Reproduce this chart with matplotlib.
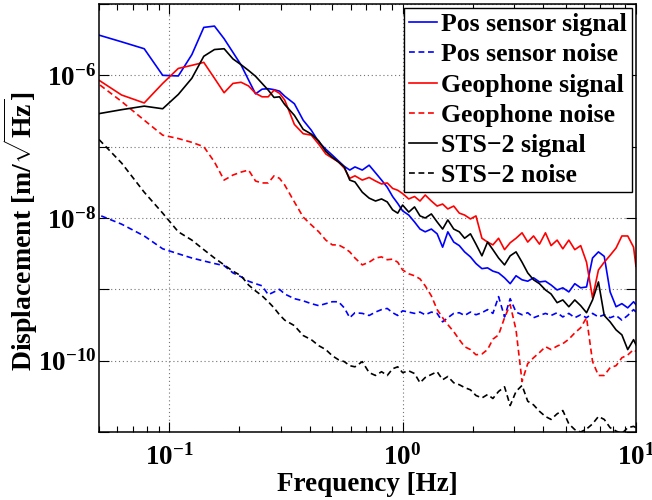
import numpy as np
import matplotlib
matplotlib.use("Agg")
import matplotlib.pyplot as plt
from matplotlib.ticker import FixedLocator, FuncFormatter, LogLocator, NullFormatter

plt.rcParams['font.family'] = ['Liberation Serif', 'DejaVu Serif']
plt.rcParams['font.weight'] = 'bold'
plt.rcParams['mathtext.fontset'] = 'custom'
plt.rcParams['mathtext.rm'] = 'Liberation Serif:bold'
plt.rcParams['mathtext.it'] = 'Liberation Serif:italic:bold'
plt.rcParams['mathtext.bf'] = 'Liberation Serif:bold'

# frequency bin index (resolution 1/64 Hz)
bins = [3, 4, 5, 6, 7, 8, 9, 10, 11, 12, 13, 14, 15, 16, 17, 18, 19, 20,
        22, 24, 26, 28, 30, 32, 34, 36, 38, 40,
        43, 46, 49, 52, 55, 58, 61, 64,
        68, 72, 76, 80, 85, 90, 95, 100,
        106, 112, 118, 125, 132, 140, 148, 156, 165, 175, 185, 196,
        208, 220, 233, 247, 262, 277, 294, 311, 330, 350, 371, 393,
        417, 442, 468, 496, 526, 557, 590, 625, 640]
freq = np.array(bins) / 64.0

pos_signal = [3.9e-6, 2.95e-6, 2.36e-6, 1.0e-6, 9.8e-7, 1.95e-6, 4.7e-6, 4.9e-6, 3.26e-6, 2.1e-6, 1.4e-6, 8.6e-7, 5.5e-7, 6.4e-7, 6.5e-7, 6.3e-7, 6.0e-7, 5.1e-7,
              4.0e-7, 2.35e-7, 1.7e-7, 1.16e-7, 9.2e-8, 7.6e-8, 6.3e-8, 5.3e-8, 4.7e-8, 5.2e-8,
              4.7e-8, 5.5e-8, 4.3e-8, 3.4e-8, 2.7e-8, 2.0e-8, 1.6e-8, 1.26e-8,
              1.1e-8, 8.8e-9, 7.0e-9, 6.4e-9, 7.0e-9, 6.0e-9, 3.9e-9, 6.4e-9,
              4.6e-9, 4.1e-9, 3.35e-9, 2.85e-9, 2.3e-9, 1.95e-9, 2.0e-9, 1.8e-9, 1.7e-9, 1.45e-9, 1.2e-9, 1.55e-9,
              1.36e-9, 1.3e-9, 1.45e-9, 1.27e-9, 1.3e-9, 1.15e-9, 9.8e-10, 1.05e-9, 9.2e-10, 1.2e-9, 1.05e-9, 1.08e-9,
              2.75e-9, 3.35e-9, 2.9e-9, 9.2e-10, 5.7e-10, 6.3e-10, 5.5e-10, 6.7e-10, 6.1e-10]

pos_noise = [1.2e-8, 8.2e-9, 5.6e-9, 3.7e-9, 3.15e-9, 2.75e-9, 2.5e-9, 2.3e-9, 2.15e-9, 1.7e-9, 1.5e-9, 1.3e-9, 1.2e-9, 1.12e-9, 8.4e-10, 9.2e-10, 1.0e-9, 8.6e-10,
             7.4e-10, 6.9e-10, 6.3e-10, 5.9e-10, 6.3e-10, 6.7e-10, 6.7e-10, 5.5e-10, 4.0e-10, 4.7e-10,
             4.6e-10, 4.3e-10, 4.8e-10, 5.2e-10, 5.4e-10, 4.7e-10, 4.3e-10, 5.0e-10,
             4.8e-10, 4.6e-10, 4.8e-10, 4.4e-10, 4.8e-10, 4.6e-10, 3.5e-10, 4.0e-10,
             4.6e-10, 4.7e-10, 4.3e-10, 4.8e-10, 4.4e-10, 4.7e-10, 5.2e-10, 4.6e-10, 7.9e-10, 4.1e-10, 7.4e-10, 4.8e-10,
             4.4e-10, 4.7e-10, 4.0e-10, 4.3e-10, 4.6e-10, 4.3e-10, 4.7e-10, 4.1e-10, 4.6e-10, 4.0e-10, 4.4e-10, 4.0e-10,
             4.6e-10, 4.1e-10, 4.4e-10, 4.0e-10, 4.3e-10, 3.7e-10, 4.3e-10, 5.2e-10, 4.8e-10]

geo_signal = [9.8e-7, 5.3e-7, 4.1e-7, 7.7e-7, 1.25e-6, 1.38e-6, 1.52e-6, 9.1e-7, 5.7e-7, 7.7e-7, 8.0e-7, 7.1e-7, 5.6e-7, 5.0e-7, 5.0e-7, 6.2e-7, 5.6e-7, 4.5e-7,
              2.05e-7, 1.52e-7, 1.45e-7, 1.08e-7, 7.9e-8, 6.9e-8, 6.1e-8, 5.0e-8, 3.6e-8, 3.9e-8,
              3.4e-8, 3.7e-8, 3.3e-8, 3.0e-8, 3.1e-8, 2.6e-8, 2.45e-8, 2.2e-8,
              1.85e-8, 2.0e-8, 1.73e-8, 2.1e-8, 1.73e-8, 1.47e-8, 1.57e-8, 1.34e-8,
              1.47e-8, 1.17e-8, 1.1e-8, 9.7e-9, 1.07e-8, 5.2e-9, 4.6e-9, 4.2e-9, 5.2e-9, 3.6e-9, 4.5e-9, 5.2e-9,
              6.2e-9, 4.6e-9, 5.6e-9, 4.3e-9, 6.2e-9, 4.1e-9, 4.9e-9, 3.7e-9, 4.9e-9, 3.6e-9, 4.1e-9, 2.4e-9,
              7.6e-10, 1.87e-9, 2.4e-9, 3.0e-9, 3.8e-9, 5.6e-9, 5.6e-9, 3.9e-9, 2.1e-9]

geo_noise = [8.8e-7, 4.3e-7, 2.35e-7, 1.45e-7, 1.3e-7, 1.15e-7, 1.0e-7, 6.1e-8, 3.4e-8, 4.0e-8, 4.4e-8, 4.7e-8, 3.3e-8, 3.1e-8, 3.1e-8, 3.9e-8, 3.6e-8, 2.9e-8,
             1.68e-8, 1.03e-8, 8.0e-9, 6.4e-9, 4.9e-9, 4.2e-9, 4.2e-9, 3.8e-9, 3.35e-9, 2.75e-9,
             2.2e-9, 2.4e-9, 2.75e-9, 2.85e-9, 2.6e-9, 2.65e-9, 2.4e-9, 1.87e-9,
             1.65e-9, 1.55e-9, 1.4e-9, 1.12e-9, 8.1e-10, 5.2e-10, 4.0e-10, 3.2e-10,
             2.55e-10, 1.97e-10, 1.57e-10, 1.43e-10, 1.21e-10, 1.24e-10, 1.43e-10, 2.0e-10, 2.3e-10, 4.0e-10, 6.1e-10, 2.7e-10,
             5.1e-11, 9.1e-11, 1.1e-10, 1.3e-10, 1.57e-10, 1.43e-10, 1.6e-10, 1.73e-10, 2.0e-10, 2.45e-10, 2.9e-10, 4.0e-10,
             9.7e-11, 6.2e-11, 6.2e-11, 8.0e-11, 8.5e-11, 1.1e-10, 1.2e-10, 1.43e-10, 1.35e-10]

sts_signal = [2.8e-7, 3.3e-7, 3.7e-7, 3.4e-7, 5.4e-7, 9.1e-7, 1.85e-6, 2.3e-6, 2.36e-6, 1.7e-6, 1.41e-6, 1.17e-6, 9.7e-7, 7.7e-7, 6.2e-7, 4.9e-7, 5.0e-7, 3.9e-7,
              2.75e-7, 1.75e-7, 1.5e-7, 1.2e-7, 8.6e-8, 7.1e-8, 6.1e-8, 5.2e-8, 3.4e-8, 3.2e-8,
              2.3e-8, 1.9e-8, 1.73e-8, 1.85e-8, 1.68e-8, 1.3e-8, 1.17e-8, 1.52e-8,
              1.21e-8, 1.43e-8, 1.07e-8, 1.0e-8, 1.14e-8, 8.8e-9, 7.0e-9, 9.4e-9,
              7.0e-9, 6.4e-9, 5.2e-9, 6.0e-9, 4.3e-9, 2.95e-9, 4.6e-9, 3.6e-9, 2.75e-9, 2.2e-9, 2.95e-9, 3.35e-9,
              2.4e-9, 1.7e-9, 1.36e-9, 1.2e-9, 9.8e-10, 8.6e-10, 6.5e-10, 7.1e-10, 5.7e-10, 7.1e-10, 5.9e-10, 4.7e-10,
              7.1e-10, 1.27e-9, 4.3e-10, 3.5e-10, 2.7e-10, 2.3e-10, 1.43e-10, 1.97e-10, 1.67e-10]

sts_noise = [1.57e-7, 5.9e-8, 2.3e-8, 1.17e-8, 6.4e-9, 4.9e-9, 3.6e-9, 2.75e-9, 2.2e-9, 1.8e-9, 1.55e-9, 1.15e-9, 9.5e-10, 8.1e-10, 6.7e-10, 5.5e-10, 4.4e-10, 3.7e-10,
             3.1e-10, 2.25e-10, 1.97e-10, 1.62e-10, 1.43e-10, 1.17e-10, 1.03e-10, 9.7e-11, 8.5e-11, 8.2e-11,
             9.7e-11, 6.8e-11, 6.2e-11, 7.0e-11, 6.2e-11, 7.7e-11, 8.2e-11, 6.8e-11,
             7.2e-11, 6.6e-11, 4.9e-11, 5.8e-11, 6.4e-11, 7.0e-11, 5.4e-11, 6.0e-11,
             4.9e-11, 4.6e-11, 4.2e-11, 3.9e-11, 3.25e-11, 3.0e-11, 3.35e-11, 2.95e-11, 3.7e-11, 4.3e-11, 2.35e-11, 3.7e-11,
             4.5e-11, 2.7e-11, 2.4e-11, 1.95e-11, 1.65e-11, 1.5e-11, 1.8e-11, 2.0e-11, 1.3e-11, 1.08e-11, 1.0e-11, 1.1e-11,
             1.3e-11, 1.65e-11, 1.5e-11, 1.15e-11, 1.03e-11, 9.5e-12, 1.15e-11, 1.2e-11, 1.15e-11]

labels = ['Pos sensor signal', 'Pos sensor noise', 'Geophone signal',
          'Geophone noise', 'STS\u22122 signal', 'STS\u22122 noise']

fig = plt.figure(figsize=(6.52, 5.0), dpi=100)
ax = fig.add_axes([0.1518, 0.136, 0.8236, 0.856])

dash = (0, (3.5, 2.2))
series = [(pos_signal, 'blue', '-'), (pos_noise, 'blue', dash),
          (geo_signal, 'red', '-'), (geo_noise, 'red', dash),
          (sts_signal, 'black', '-'), (sts_noise, 'black', dash)]
for (vals, col, ls), lab in zip(series, labels):
    ax.loglog(freq, vals, color=col, linestyle=ls, lw=1.2, label=lab)

ax.set_xlim(0.05, 10)
ax.set_ylim(1e-11, 1e-5)

ax.xaxis.set_major_locator(FixedLocator([0.1, 1, 10]))
ax.xaxis.set_minor_locator(LogLocator(base=10, subs=np.arange(2, 10)))
ax.xaxis.set_minor_formatter(NullFormatter())
ax.xaxis.set_major_formatter(FuncFormatter(lambda v, p: r'$\mathdefault{10^{%d}}$' % round(np.log10(v))))

ydec = [1e-11, 1e-10, 1e-9, 1e-8, 1e-7, 1e-6, 1e-5]
ax.yaxis.set_major_locator(FixedLocator(ydec))
ax.yaxis.set_minor_locator(FixedLocator([]))
def yfmt(v, p):
    e = int(round(np.log10(v)))
    return r'$\mathdefault{10^{%d}}$' % e if e in (-6, -8, -10) else ''
ax.yaxis.set_major_formatter(FuncFormatter(yfmt))

ax.tick_params(which='both', direction='in', top=True, right=True, labelsize=19.5, width=0.8)
ax.tick_params(axis='x', which='major', pad=9)
ax.tick_params(axis='y', which='major', pad=2)
ax.tick_params(which='major', length=7)
ax.tick_params(which='minor', length=4)
for s in ax.spines.values():
    s.set_linewidth(1.1)

ax.grid(True, which='major', color='0.45', linestyle=(0, (1, 2.5)), lw=0.8)

ax.set_xlabel('Frequency [Hz]', fontsize=19.5, fontweight='bold', labelpad=1)
ax.set_ylabel(r'Displacement [m/$\sqrt{\mathrm{Hz}}$]', fontsize=20, fontweight='bold')
ax.yaxis.set_label_coords(-0.110, 0.47)

leg = ax.legend(loc='upper right', bbox_to_anchor=(0.9926, 0.9907), fontsize=18.5,
                frameon=True, fancybox=False, framealpha=1, edgecolor='black',
                handlelength=1.1, handletextpad=0.15, labelspacing=0.28,
                borderpad=0.2, borderaxespad=0.0)
leg.get_frame().set_linewidth(1.0)

fig.savefig('out.png', dpi=100)
